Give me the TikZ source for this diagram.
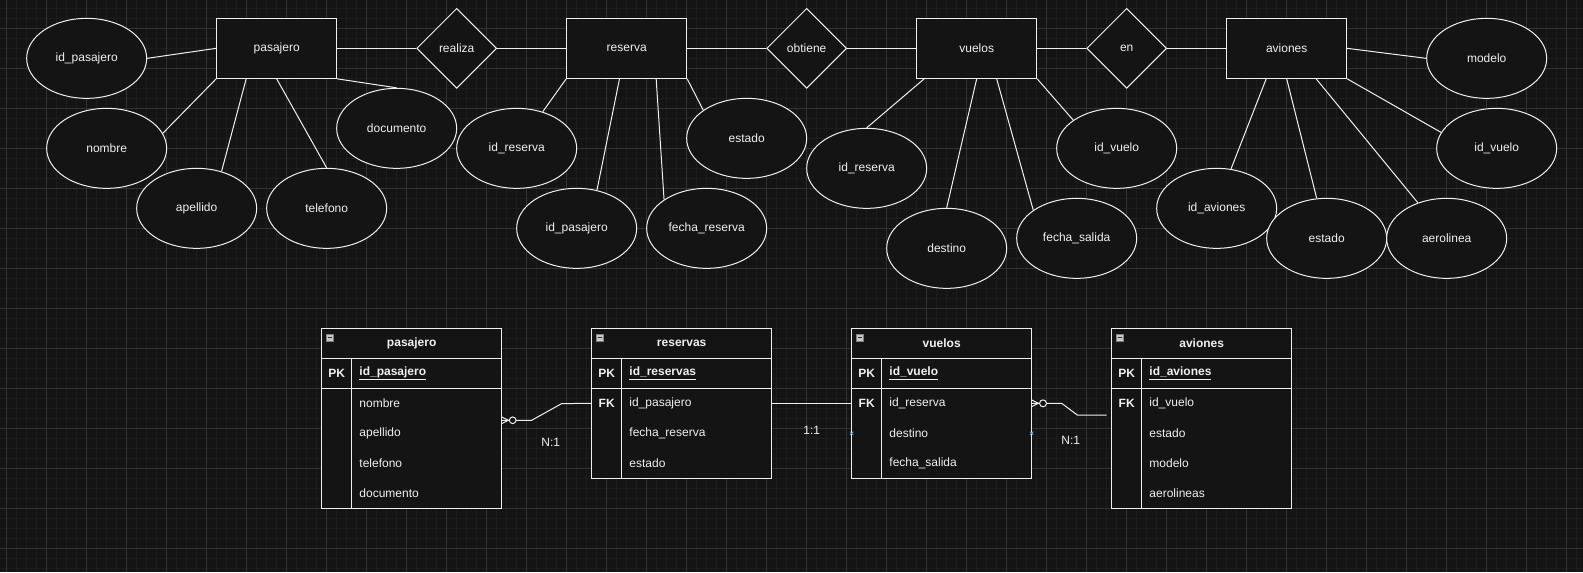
\documentclass[tikz,border=0pt]{standalone}
\usepackage{fontspec}
\setmainfont{Liberation Sans}
\usetikzlibrary{positioning,shapes.geometric}
\definecolor{canvas}{RGB}{20,20,20}
\definecolor{gridminor}{RGB}{29,29,29}
\definecolor{gridmajor}{RGB}{50,50,50}
\definecolor{ink}{RGB}{240,240,240}
\definecolor{hoverblue}{RGB}{120,170,210}
\definecolor{foldgray}{RGB}{200,200,200}
\definecolor{folddark}{RGB}{45,45,45}
\tikzset{
  entity/.style={draw=ink, fill=canvas, line width=0.75pt, minimum width=90pt, minimum height=45pt, inner sep=0pt},
  attrib/.style={ellipse, draw=ink, fill=canvas, line width=0.75pt, minimum width=90pt, minimum height=60pt, inner sep=0pt},
  relation/.style={diamond, draw=ink, fill=canvas, line width=0.75pt, minimum width=60pt, minimum height=60pt, inner sep=0pt},
  link/.style={draw=ink, line width=0.75pt},
  tabhead/.style={draw=ink, fill=canvas, line width=0.75pt, outer sep=0pt, minimum width=135pt, minimum height=22.5pt, inner sep=0pt, font=\fontsize{9pt}{11pt}\selectfont\bfseries},
  tabbody/.style={draw=ink, fill=canvas, line width=0.75pt, outer sep=0pt, minimum width=135pt, inner sep=0pt},
  fieldtxt/.style={anchor=west, minimum height=22.5pt, inner sep=0pt},
  keytxt/.style={inner sep=0pt, font=\fontsize{9pt}{11pt}\selectfont\bfseries},
  erline/.style={draw=ink, line width=0.75pt},
  card/.style={inner sep=0pt}
}
\newcommand{\foldmark}[1]{%
  \filldraw[fill=foldgray, draw=gray, line width=0.4pt] (#1.north west) ++(5,6) rectangle ++(6.67,6.67);
  \draw[folddark, line width=0.9pt] (#1.north west) ++(6.3,9.33) -- ++(4.07,0);}

\begin{document}
\begin{tikzpicture}[x=0.75pt, y=-0.75pt, every node/.style={font=\fontsize{9pt}{11pt}\selectfont, text=ink}]
  \useasboundingbox (0,0) rectangle (1583,572);
  \fill[canvas] (0,0) rectangle (1583,572);
  % grid
  \foreach \gx in {0,...,157}
    \draw[gridminor, line width=0.75pt] (6.67+10*\gx,0) -- (6.67+10*\gx,572);
  \foreach \gy in {0,...,56}
    \draw[gridminor, line width=0.75pt] (0,8.33+10*\gy) -- (1583,8.33+10*\gy);
  \foreach \gx in {0,...,39}
    \draw[gridmajor, line width=0.75pt] (6.67+40*\gx,0) -- (6.67+40*\gx,572);
  \foreach \gy in {0,...,13}
    \draw[gridmajor, line width=0.75pt] (0,28.33+40*\gy) -- (1583,28.33+40*\gy);

  % entities and relations
  \node[entity] (pas) at (276.67,48.33) {pasajero};
  \node[relation] (rea) at (456.67,48.33) {realiza};
  \node[entity] (res) at (626.67,48.33) {reserva};
  \node[relation] (obt) at (806.67,48.33) {obtiene};
  \node[entity] (vue) at (976.67,48.33) {vuelos};
  \node[relation] (enr) at (1126.67,48.33) {en};
  \node[entity] (avi) at (1286.67,48.33) {aviones};

  % attributes
  \node[attrib] (pidp) at (86.67,58.33) {id\_pasajero};
  \node[attrib] (pnom) at (106.67,148.33) {nombre};
  \node[attrib] (pape) at (196.67,208.33) {apellido};
  \node[attrib] (ptel) at (326.67,208.33) {telefono};
  \node[attrib] (pdoc) at (396.67,128.33) {documento};
  \node[attrib] (ridr) at (516.67,148.33) {id\_reserva};
  \node[attrib] (ridp) at (576.67,228.33) {id\_pasajero};
  \node[attrib] (rfec) at (706.67,228.33) {fecha\_reserva};
  \node[attrib] (rest) at (746.67,138.33) {estado};
  \node[attrib] (vidr) at (866.67,168.33) {id\_reserva};
  \node[attrib] (vdes) at (946.67,248.33) {destino};
  \node[attrib] (vfec) at (1076.67,238.33) {fecha\_salida};
  \node[attrib] (vidv) at (1116.67,148.33) {id\_vuelo};
  \node[attrib] (amod) at (1486.67,58.33) {modelo};
  \node[attrib] (aidv) at (1496.67,148.33) {id\_vuelo};
  \node[attrib] (aida) at (1216.67,208.33) {id\_aviones};
  \node[attrib] (aest) at (1326.67,238.33) {estado};
  \node[attrib] (aaer) at (1446.67,238.33) {aerolinea};

  % chen links
  \draw[link] (pas.east) -- (rea.west);
  \draw[link] (rea.east) -- (res.west);
  \draw[link] (res.east) -- (obt.west);
  \draw[link] (obt.east) -- (vue.west);
  \draw[link] (vue.east) -- (enr.west);
  \draw[link] (enr.east) -- (avi.west);
  \draw[link] (pidp.east) -- (pas.west);
  \draw[link] (pas.south west) -- (pnom.15);
  \draw[link] ([xshift=22.5pt]pas.south west) -- (pape.56);
  \draw[link] (pas.south) -- (ptel.north);
  \draw[link] (pas.south east) -- (pdoc.north);
  \draw[link] (res.south west) -- (ridr);
  \draw[link] ([xshift=40pt]res.south west) -- (ridp.62);
  \draw[link] ([xshift=67.5pt]res.south west) -- (rfec.146);
  \draw[link] (res.south east) -- (rest.147);
  \draw[link] ([xshift=6pt]vue.south west) -- (vidr.north);
  \draw[link] (vue.south) -- (vdes.north);
  \draw[link] ([xshift=15pt]vue.south) -- (vfec.147);
  \draw[link] (vue.south east) -- (vidv.147);
  \draw[link] (avi.east) -- (amod.west);
  \draw[link] (avi.south east) -- (aidv.164);
  \draw[link] ([xshift=30pt]avi.south west) -- (aida.70);
  \draw[link] (avi.south) -- (aest.104);
  \draw[link] ([xshift=67.5pt]avi.south west) -- (aaer.129);

  % table pasajero
  \node[tabhead] (tpas) at (411.67,343.33) {pasajero};
  \node[tabbody, minimum height=112.5pt] (tpasb) at (411.67,433.33) {};
  \draw[link] (tpasb.north west) ++(0,30) -- ++(180,0);
  \draw[link] (tpasb.north west) ++(30,0) -- ++(0,150);
  \foldmark{tpas}
  \node[keytxt] at (336.67,373.33) {PK};
  \node[fieldtxt] (fpas0) at (359.17,373.33) {\textbf{\underline{id\_pasajero}}};
  \foreach \txt [count=\i] in {nombre,apellido,telefono,documento}
    \node[fieldtxt] (fpas\i) at (359.17,373.33+30*\i) {\txt};

  % table reservas
  \node[tabhead] (tres) at (681.67,343.33) {reservas};
  \node[tabbody, minimum height=90pt] (tresb) at (681.67,418.33) {};
  \draw[link] (tresb.north west) ++(0,30) -- ++(180,0);
  \draw[link] (tresb.north west) ++(30,0) -- ++(0,120);
  \foldmark{tres}
  \node[keytxt] at (606.67,373.33) {PK};
  \node[keytxt] at (606.67,403.33) {FK};
  \node[fieldtxt] (fres0) at (629.17,373.33) {\textbf{\underline{id\_reservas}}};
  \foreach \txt [count=\i] in {id\_pasajero,fecha\_reserva,estado}
    \node[fieldtxt] (fres\i) at (629.17,373.33+30*\i) {\txt};

  % table vuelos
  \node[tabhead] (tvue) at (941.67,343.33) {vuelos};
  \node[tabbody, minimum height=90pt] (tvueb) at (941.67,418.33) {};
  \draw[link] (tvueb.north west) ++(0,30) -- ++(180,0);
  \draw[link] (tvueb.north west) ++(30,0) -- ++(0,120);
  \foldmark{tvue}
  \node[keytxt] at (866.67,373.33) {PK};
  \node[keytxt] at (866.67,403.33) {FK};
  \node[fieldtxt] (fvue0) at (889.17,373.33) {\textbf{\underline{id\_vuelo}}};
  \foreach \txt [count=\i] in {id\_reserva,destino,fecha\_salida}
    \node[fieldtxt] (fvue\i) at (889.17,373.33+30*\i) {\txt};

  % table aviones
  \node[tabhead] (tavi) at (1201.67,343.33) {aviones};
  \node[tabbody, minimum height=112.5pt] (tavib) at (1201.67,433.33) {};
  \draw[link] (tavib.north west) ++(0,30) -- ++(180,0);
  \draw[link] (tavib.north west) ++(30,0) -- ++(0,150);
  \foldmark{tavi}
  \node[keytxt] at (1126.67,373.33) {PK};
  \node[keytxt] at (1126.67,403.33) {FK};
  \node[fieldtxt] (favi0) at (1149.17,373.33) {\textbf{\underline{id\_aviones}}};
  \foreach \txt [count=\i] in {id\_vuelo,estado,modelo,aerolineas}
    \node[fieldtxt] (favi\i) at (1149.17,373.33+30*\i) {\txt};

  % relations between tables
  \draw[erline] ([yshift=-1.25pt]tpasb.east |- fpas1.south) -- ++(30,0) -- ++(30,-16.67) -- (tresb.west |- fres1.west);
  \draw[erline] ([yshift=-1.25pt]tpasb.east |- fpas1.south) ++(0,-3.33) -- ++(6.67,3.33) -- ++(-6.67,3.33);
  \filldraw[erline, fill=canvas] ([yshift=-1.25pt]tpasb.east |- fpas1.south) ++(11,0) circle (2.5pt);
  \draw[erline] (tresb.east |- fres1.west) -- (tvueb.west |- fvue1.west);
  \draw[erline, shorten >=3.75pt] (tvueb.east |- fvue1.west) -- ++(30,0) -- ++(15.67,11.67) -- ([yshift=2.5pt]tavib.west |- favi1.south);
  \draw[erline] (tvueb.east |- fvue1.west) ++(0,-3.33) -- ++(6.67,3.33) -- ++(-6.67,3.33);
  \filldraw[erline, fill=canvas] (tvueb.east |- fvue1.west) ++(11.33,0) circle (2.6pt);
  \node[card] (card1) at (550.67,442.67) {N:1};
  \node[card] (card2) at (811.67,430.67) {1:1};
  \node[card] (card3) at (1070.67,440.67) {N:1};
  \draw[hoverblue, line width=0.6pt] (tvueb.west |- fvue2.west) ++(-1.6,-1.6) -- ++(3.2,3.2) ++(0,-3.2) -- ++(-3.2,3.2);
  \draw[hoverblue, line width=0.6pt] (tvueb.east |- fvue2.west) ++(-1.6,-1.6) -- ++(3.2,3.2) ++(0,-3.2) -- ++(-3.2,3.2);
\end{tikzpicture}
\end{document}
